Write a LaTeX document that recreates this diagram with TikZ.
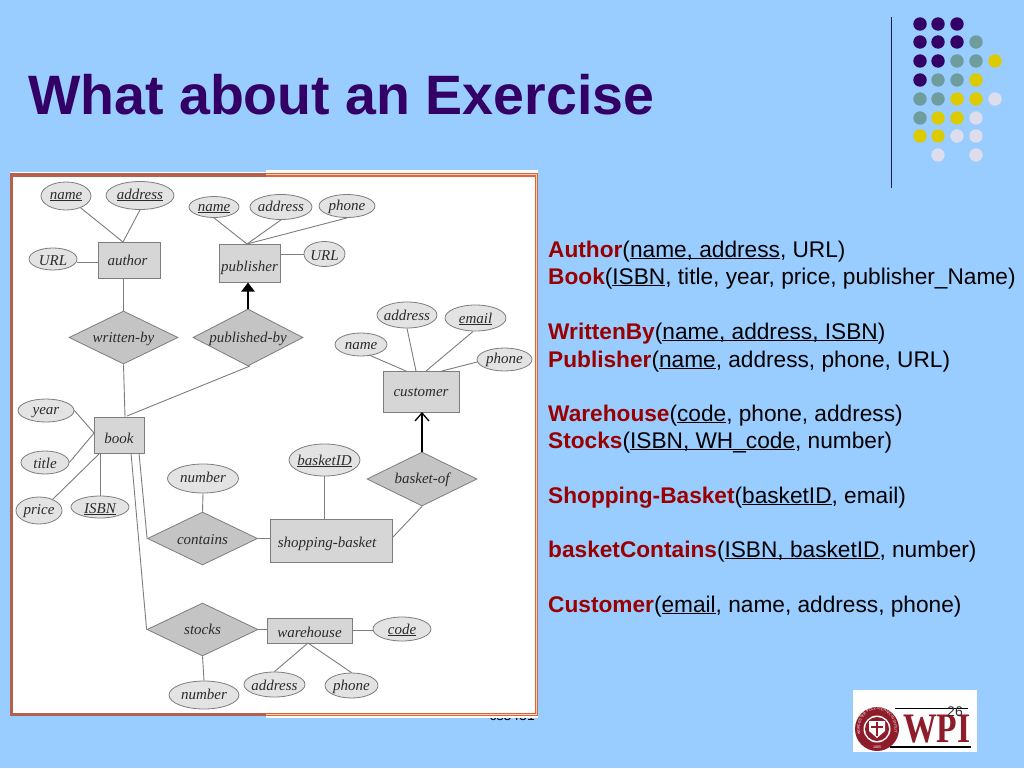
\documentclass[tikz,border=0pt]{standalone}
\usepackage{fontspec}
\setmainfont{Liberation Sans}
\newfontfamily\erfont{Liberation Serif}
\usetikzlibrary{shapes.geometric,arrows.meta,decorations.text}
\definecolor{bgblue}{HTML}{99CCFF}
\definecolor{titlepurple}{HTML}{330066}
\definecolor{keyred}{HTML}{990000}
\definecolor{dotteal}{HTML}{6F9C9C}
\definecolor{dotyellow}{HTML}{DCCB00}
\definecolor{dotlav}{HTML}{DDDDEE}
\definecolor{ruleblue}{HTML}{1A1A4D}
\definecolor{frameleft}{HTML}{B5604C}
\definecolor{frameright}{HTML}{DD6538}
\definecolor{wpired}{HTML}{8F1C2A}
\definecolor{erline}{HTML}{7D7D7D}
\definecolor{ertext}{HTML}{2B2B2B}
\newcommand{\et}[2][5]{\smash{\makebox[0pt]{\raisebox{-#1pt}{\erfont\itshape\fontsize{15}{15}\selectfont #2}}}}
\newcommand{\uk}[1]{\underline{\smash{#1}}}
\newcommand{\kw}[1]{\textbf{\textcolor{keyred}{#1}}}
\tikzset{
  ent/.style={rectangle,draw=erline,fill=black!16,line width=1pt,inner sep=0pt,text=ertext},
  rel/.style={diamond,draw=erline,fill=black!23,line width=.8pt,inner sep=0pt,text=ertext},
  attr/.style={ellipse,draw=erline,fill=black!11,line width=.8pt,inner sep=0pt,text=ertext},
  conn/.style={draw=erline,line width=.9pt},
  rowtext/.style={anchor=base west,inner sep=0pt,font=\fontsize{22.67}{27}\selectfont,text=black},
  dotp/.style={circle,fill=titlepurple,inner sep=0pt,minimum size=13.4pt},
  dott/.style={circle,fill=dotteal,inner sep=0pt,minimum size=13.4pt},
  doty/.style={circle,fill=dotyellow,inner sep=0pt,minimum size=13.4pt},
  dotl/.style={circle,fill=dotlav,inner sep=0pt,minimum size=13.4pt},
}
\begin{document}
\begin{tikzpicture}[x=1pt,y=-1pt]
\useasboundingbox (0,0) rectangle (1024,768);
\fill[bgblue] (0,0) rectangle (1024,768);

% title
\node[anchor=base west,inner sep=0pt,text=titlepurple,font=\fontsize{55.5}{60}\selectfont\bfseries] (title) at (28,114) {What about an Exercise};

% decoration
\coordinate (ruletop) at (891.5,17);
\coordinate (rulebot) at (891.5,188);
\draw[ruleblue,line width=1.5pt] (ruletop) -- (rulebot);
\foreach \c/\r/\s in {920/24/dotp,938/24/dotp,957/24/dotp,
  920/42/dotp,938/42/dotp,957/42/dotp,976/42/dott,
  920/61/dotp,938/61/dotp,957/61/dott,976/61/dott,995/61/doty,
  920/80/dotp,938/80/dott,957/80/dott,976/80/doty,
  920/99/dott,938/99/dott,957/99/doty,976/99/doty,995/99/dotl,
  920/118/dott,938/118/doty,957/118/doty,976/118/dotl,
  920/136/doty,938/136/doty,957/136/dotl,976/136/dotl,
  938/155/dotl,976/155/dotl}
  \node[\s] (dot-\c-\r) at (\c,\r) {};

% hidden footer, below the frame
\node[anchor=base east,inner sep=0pt,font=\fontsize{14}{14}\selectfont,text=black] (footer) at (535,720) {cs3431};

% frame
\fill[white!96!orange] (266,170) rectangle (538,718);
\fill[white] (10,172) rectangle (538,716);
\fill[frameleft] (10,173) rectangle (266,176.5);
\fill[frameleft] (10,173) rectangle (13,716);
\fill[frameleft] (10,712.5) rectangle (266,716);
\fill[frameright] (266,173) rectangle (538,176.5);
\fill[frameright] (534.5,173) rectangle (538,716);
\fill[frameright] (266,712.5) rectangle (538,716);
\draw[white!70!frameright,line width=.7pt] (266,174.8) -- (536.2,174.8) -- (536.2,714.2) -- (266,714.2);

% entities
\node[ent,minimum width=62pt,minimum height=36pt] (author) at (129,260) {\et{\hspace{-3pt}author}};
\node[ent,minimum width=61pt,minimum height=38pt] (publisher) at (249.5,263) {\et[8]{publisher}};
\node[ent,minimum width=76pt,minimum height=41pt] (customer) at (421,391.5) {\et[4.5]{customer}};
\node[ent,minimum width=50pt,minimum height=36pt] (book) at (119,435) {\et[8]{book}};
\node[ent,minimum width=122pt,minimum height=43pt] (basket) at (331,540.5) {\et[6.5]{\hspace{-8pt}shopping-basket}};
\node[ent,minimum width=85pt,minimum height=25pt] (warehouse) at (309.5,630.5) {\et[6.5]{warehouse}};

% relationships
\node[rel,minimum width=109pt,minimum height=53pt] (writtenby) at (123.5,337.5) {\et[4.5]{written-by}};
\node[rel,minimum width=110pt,minimum height=57pt] (publishedby) at (248,337.5) {\et[4.5]{published-by}};
\node[rel,minimum width=110pt,minimum height=54pt] (basketof) at (422,479) {\et[4]{basket-of}};
\node[rel,minimum width=110pt,minimum height=53pt] (contains) at (202.5,538.5) {\et[5.5]{contains}};
\node[rel,minimum width=111pt,minimum height=53pt] (stocks) at (202.5,629.5) {\et[4.5]{stocks}};

% attributes
\node[attr,minimum width=50pt,minimum height=28pt] (aname) at (66,196) {\et[3]{\underline{name}}};
\node[attr,minimum width=68pt,minimum height=28pt] (aaddr) at (140,195.5) {\et[3.5]{\underline{address}}};
\node[attr,minimum width=48pt,minimum height=22pt] (aurl) at (53,259) {\et[6]{URL}};
\node[attr,minimum width=50pt,minimum height=21pt] (pname) at (214,207) {\et[4]{\underline{name}}};
\node[attr,minimum width=62pt,minimum height=25pt] (paddr) at (281,207) {\et[4]{address}};
\node[attr,minimum width=56pt,minimum height=23pt] (pphone) at (347,206) {\et[4]{phone}};
\node[attr,minimum width=41pt,minimum height=25pt] (purl) at (324.5,254) {\et[6]{URL}};
\node[attr,minimum width=60pt,minimum height=26pt] (caddr) at (407,315) {\et{address}};
\node[attr,minimum width=61pt,minimum height=26pt] (cemail) at (475.5,318) {\et{\underline{email}}};
\node[attr,minimum width=52pt,minimum height=23pt] (cname) at (361,344.5) {\et[4.5]{name}};
\node[attr,minimum width=55pt,minimum height=23pt] (cphone) at (504.5,359.5) {\et[3.5]{phone}};
\node[attr,minimum width=56pt,minimum height=23pt] (byear) at (46,410.5) {\et[3.5]{year}};
\node[attr,minimum width=48pt,minimum height=23pt] (btitle) at (45,462.5) {\et[5.5]{title}};
\node[attr,minimum width=46pt,minimum height=27pt] (bprice) at (39,510.5) {\et[3.5]{price}};
\node[attr,minimum width=58pt,minimum height=22pt] (bisbn) at (100,507) {\et[6]{\underline{ISBN}}};
\node[attr,minimum width=71pt,minimum height=29pt] (cnumber) at (203,478.5) {\et[3.5]{number}};
\node[attr,minimum width=71pt,minimum height=32pt] (sbid) at (324.5,460) {\et{\underline{basketID}}};
\node[attr,minimum width=58pt,minimum height=24pt] (wcode) at (402,629) {\et{\underline{code}}};
\node[attr,minimum width=61pt,minimum height=25pt] (waddr) at (274.5,684.5) {\et[5.5]{address}};
\node[attr,minimum width=53pt,minimum height=25pt] (wphone) at (351.5,685.5) {\et[4.5]{phone}};
\node[attr,minimum width=70pt,minimum height=28pt] (snumber) at (204,695) {\et[4]{number}};

% ports on boxes
\coordinate (authortop) at (123,242);
\coordinate (authorleft) at (98,262);
\coordinate (urlright) at (77,262);
\coordinate (pubtop) at (247,244);
\coordinate (pubright) at (280,254);
\coordinate (custname) at (406,371);
\coordinate (custaddr) at (416,371);
\coordinate (custemail) at (426,371);
\coordinate (custphone) at (442,371);
\coordinate (cnamefoot) at (369,355);
\coordinate (cemailfoot) at (473,331.5);
\coordinate (cphonefoot) at (477,362);
\coordinate (bookleft) at (94,433);
\coordinate (bookpub) at (127,416);
\coordinate (bookwrit) at (125,417);
\coordinate (bookprice) at (100,453);
\coordinate (bookcont) at (139,453);
\coordinate (bookstock) at (131,453);
\coordinate (whbot) at (308,643);
\coordinate (sbright) at (393,537);
\coordinate (sbtop) at (324.5,519);
\coordinate (pubbottom) at (250,366);
\coordinate (custin) at (422,412);
\coordinate (pricetop) at (52,500);

% connectors
\draw[conn] (aname) -- (authortop);
\draw[conn] (aaddr.south) -- (authortop);
\draw[conn] (urlright) -- (authorleft);
\draw[conn] (writtenby.north |- author.south) -- (writtenby.north);
\draw[conn] (writtenby.south) -- (bookwrit);
\draw[conn] (pubbottom) -- (bookpub);
\draw[conn] (pname.south) -- (pubtop);
\draw[conn] (paddr.south) -- (pubtop);
\draw[conn] (pphone.south) -- (pubtop);
\draw[conn] (pubright) -- (purl.west);
\draw[conn] (cnamefoot) -- (custname);
\draw[conn] (caddr.south) -- (custaddr);
\draw[conn] (cemailfoot) -- (custemail);
\draw[conn] (cphonefoot) -- (custphone);
\draw[conn] (basketof.south) -- (sbright);
\draw[conn] (sbid.south) -- (sbtop);
\draw[conn] (cnumber.south) -- (contains.north);
\draw[conn] (contains.east) -- (contains.east -| basket.west);
\draw[conn] (bookcont) -- (contains.west);
\draw[conn] (bookstock) -- (stocks.west);
\draw[conn] (stocks.east) -- (stocks.east -| warehouse.west);
\draw[conn] (stocks.south) -- (snumber.north);
\draw[conn] (warehouse.east) -- (warehouse.east -| wcode.west);
\draw[conn] (whbot) -- (waddr.north);
\draw[conn] (whbot) -- (wphone.north);
\draw[conn] (byear.east) -- (bookleft);
\draw[conn] (btitle.east) -- (bookleft);
\draw[conn] (pricetop) -- (bookprice);
\draw[conn] (bisbn.north) -- (bookprice);
\draw[black,line width=2pt,-{Triangle[width=13pt,length=9pt]}] (publishedby.north) -- (publishedby.north |- publisher.south);
\draw[black,line width=1.3pt,-{Straight Barb[width=14pt,length=8pt]}] (basketof.north) -- (custin);

% schema text
\node[rowtext] (r1) at (548,257) {\kw{Author}(\uk{name, address}, URL)};
\node[rowtext] (r2) at (548,284) {\kw{Book}(\uk{ISBN}, title, year, price, publisher\_Name)};
\node[rowtext] (r3) at (548,339) {\kw{WrittenBy}(\uk{name, address, ISBN})};
\node[rowtext] (r4) at (548,367) {\kw{Publisher}(\uk{name}, address, phone, URL)};
\node[rowtext] (r5) at (548,421) {\kw{Warehouse}(\uk{code}, phone, address)};
\node[rowtext] (r6) at (548,448) {\kw{Stocks}(\uk{ISBN, WH\_code}, number)};
\node[rowtext] (r7) at (548,503) {\kw{Shopping-Basket}(\uk{basketID}, email)};
\node[rowtext] (r8) at (548,557) {\kw{basketContains}(\uk{ISBN, basketID}, number)};
\node[rowtext] (r9) at (548,612) {\kw{Customer}(\uk{email}, name, address, phone)};

% logo
\fill[white] (853,690) rectangle (977,752);
\fill[wpired] (877,729) circle[radius=22];
\fill[white] (877,729) circle[radius=13.5];
\fill[wpired] (877,729) circle[radius=12];
\fill[white] (869,721) -- (885,721) -- (885,731) -- (877,738) -- (869,731) -- cycle;
\fill[wpired] (871,726) rectangle (883,728);
\fill[wpired] (876,722) rectangle (878,736);
\path[postaction={decorate,decoration={text along path,text align=center,
  text={|\fontsize{3.6}{4}\selectfont\color{white}|WORCESTER POLYTECHNIC INSTITUTE}}}]
  (860,733) .. controls (856,702) and (898,702) .. (894,733);
\node[inner sep=0pt,text=white,font=\fontsize{3.6}{4}\selectfont] (sealyear) at (877,747.5) {1865};
\node[anchor=base west,inner sep=0pt,text=wpired,xscale=.8,font=\erfont\fontsize{42}{42}\selectfont\bfseries] (wpi) at (903,742) {WPI};
\coordinate (lta) at (895,708);
\coordinate (ltb) at (968,708);
\coordinate (lba) at (890,747);
\coordinate (lbb) at (971,747);
\draw[black,line width=1pt] (lta) -- (ltb);
\draw[black,line width=1.5pt] (lba) -- (lbb);
\node[inner sep=0pt,font=\fontsize{14}{14}\selectfont,text=black!80] (pageno) at (955,712) {26};
\end{tikzpicture}
\end{document}
